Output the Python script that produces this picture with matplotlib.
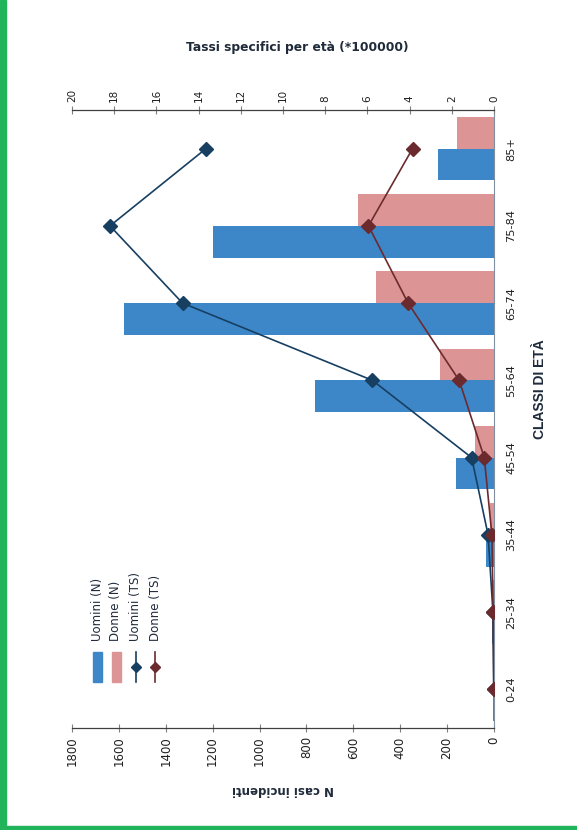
import numpy as np
import matplotlib
matplotlib.use('Agg')
import matplotlib.pyplot as plt
from matplotlib.patches import Rectangle
from matplotlib.lines import Line2D

#######
# DATA
classi = ['0-24', '25-34', '35-44', '45-54', '55-64', '65-74', '75-84', '85+']
uominiN = [3, 10, 35, 162, 765, 1578, 1197, 239]  # N casi incidenti, uomini
donneN = [1, 3, 17, 81, 231, 505, 582, 159]  # N casi incidenti, donne
uominiTS = [0.01, 0.05, 0.28, 1.06, 5.76, 14.76, 18.2, 13.65]  # tassi specifici (*100000)
donneTS = [0.01, 0.04, 0.10, 0.46, 1.65, 4.07, 5.95, 3.86]
nTicks = [0, 200, 400, 600, 800, 1000, 1200, 1400, 1600, 1800]
tsTicks = [0, 2, 4, 6, 8, 10, 12, 14, 16, 18, 20]

colU = '#3d87c8'
colD = '#dc9594'
colUline = '#173f62'
colDline = '#6b2b2e'
axisCol = '#404040'

W, H = 577, 830
fig = plt.figure(figsize=(W / 100, H / 100), dpi=100)

# green frame of the page
fig.patches.append(Rectangle((0, 0), 6 / W, 1, transform=fig.transFigure, color='#22b45a', zorder=0))
fig.patches.append(Rectangle((0, 0), 1, 4 / H, transform=fig.transFigure, color='#22b45a', zorder=0))

# axes placed in pixels (the whole chart is rotated by 90 deg)
x0, x1, y0, y1 = 72, 494, 110, 728
ax = fig.add_axes([x0 / W, 1 - y1 / H, (x1 - x0) / W, (y1 - y0) / H])
pos = np.arange(len(classi))
bw = 0.41
ax.barh(pos - bw / 2, uominiN, height=bw, color=colU, label='Uomini (N)')
ax.barh(pos + bw / 2, donneN, height=bw, color=colD, label='Donne (N)')
ax.set_xlim(1800, 0)
ax.set_ylim(-0.5, len(classi) - 0.5)
ax.set_xticks(nTicks)
ax.set_xticklabels([str(t) for t in nTicks], rotation=90, fontsize=8.5)
ax.tick_params(axis='x', direction='inout', length=6, width=0.8, color='#808080', pad=3, labelcolor='#202020')
ax.set_yticks(pos)
ax.set_yticklabels(classi, rotation=90, va='center', fontsize=8.2, color='#202020')
ax.yaxis.tick_right()
ax.tick_params(axis='y', length=0, pad=9)
ax.set_xlabel('N casi incidenti', rotation=180, fontsize=8.5, fontweight='bold', color='#1f2a3a', labelpad=12)
ax.spines['left'].set_visible(False)
ax.spines['top'].set_visible(False)
ax.spines['right'].set_color('#8090a0')
ax.spines['bottom'].set_color(axisCol)
ax.spines['bottom'].set_linewidth(0.9)
fig.text(540 / W, 1 - 389 / H, 'CLASSI DI ETÀ', rotation=90, ha='center', va='center', fontsize=10,
         fontweight='bold', family=['Liberation Sans', 'DejaVu Sans'], color='#1f2a3a')

# secondary axis for the specific rates
ax2 = ax.twiny()
ax2.plot(uominiTS, pos, color=colUline, lw=1.2, marker='D', ms=7, label='Uomini (TS)')
ax2.plot(donneTS, pos, color=colDline, lw=1.2, marker='D', ms=7, label='Donne (TS)')
ax2.set_xlim(20, 0)
ax2.set_xticks(tsTicks)
ax2.set_xticklabels([str(t) for t in tsTicks], rotation=90, fontsize=7.5)
ax2.tick_params(axis='x', direction='inout', length=6, width=0.8, color='#808080', pad=3, labelcolor='#202020')
for s in ['left', 'right', 'bottom']:
	ax2.spines[s].set_visible(False)
ax2.spines['top'].set_color(axisCol)
ax2.spines['top'].set_linewidth(0.9)
fig.text(297 / W, 1 - 48 / H, 'Tassi specifici per età (*100000)', ha='center', va='center',
         fontsize=8.8, fontweight='bold', color='#1f2a3a')

# legend (rotated, drawn by hand)
labels = ['Uomini (N)', 'Donne (N)', 'Uomini (TS)', 'Donne (TS)']
legX = [97, 116, 136, 155]
for i, lab in enumerate(labels):
	xc = legX[i] / W
	if i < 2:
		fig.patches.append(Rectangle((xc - 4.5 / W, 1 - 682 / H), 9 / W, 30 / H, transform=fig.transFigure,
		                             color=[colU, colD][i]))
	else:
		c = [colUline, colDline][i - 2]
		fig.lines.append(Line2D([xc, xc], [1 - 682 / H, 1 - 652 / H], transform=fig.transFigure, color=c, lw=1.2))
		fig.lines.append(Line2D([xc], [1 - 667 / H], transform=fig.transFigure, color=c, marker='D', ms=5))
	fig.text(xc, 1 - 641 / H, lab, rotation=90, ha='center', va='bottom', fontsize=8.5, color='#1f2a3a')

fig.savefig('out.png', dpi=100)
